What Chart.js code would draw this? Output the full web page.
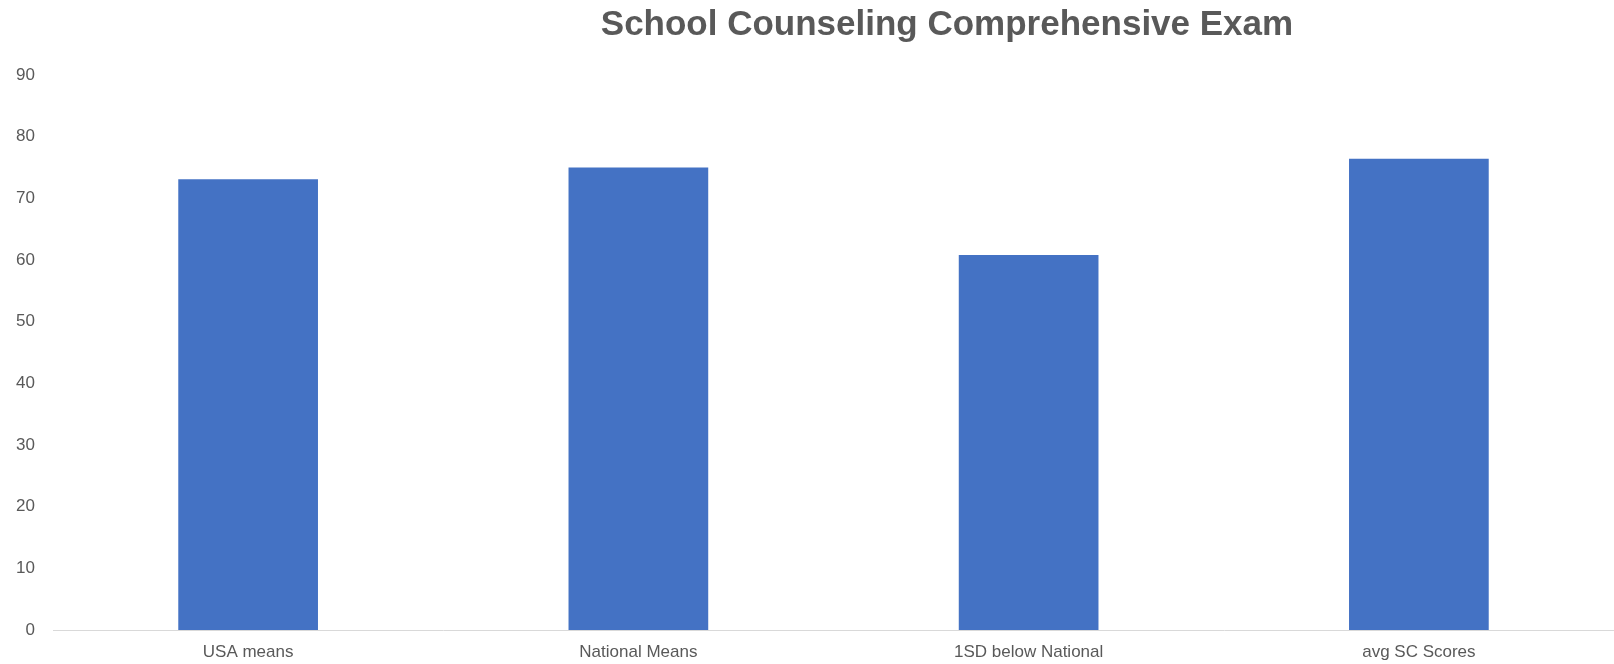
<!DOCTYPE html>
<html lang="en">

<head>
    <meta charset="UTF-8">
    <title>School Counseling Comprehensive Exam</title>
    <style>
        html, body {
            margin: 0;
            padding: 0;
            background: #ffffff;
        }

        .wrap {
            position: relative;
            width: 1614px;
            height: 664px;
        }

        .chart-title {
            position: absolute;
            top: 3px;
            left: 280px;
            right: 0;
            text-align: center;
            font-family: "Liberation Sans", Arial, sans-serif;
            font-weight: bold;
            font-size: 35px;
            color: #595959;
        }
    </style>
    <script src="https://cdn.jsdelivr.net/npm/chart.js"></script>
</head>

<body>
    <div class="wrap">
        <div class="chart-title">School Counseling Comprehensive Exam</div>
        <canvas id="exam-chart" width="1614" height="664"></canvas>
    </div>

    <script>
        // exam score categories and their values
        const categories = ['USA means', 'National Means', '1SD below National', 'avg SC Scores'];
        const scores = [73.1, 75.0, 60.8, 76.4];
        const yTicks = [0, 10, 20, 30, 40, 50, 60, 70, 80, 90];

        const ctx = document.getElementById('exam-chart');

        new Chart(ctx, {
            type: 'bar',
            data: {
                labels: categories,
                datasets: [{
                    label: 'Score',
                    data: scores,
                    backgroundColor: '#4472C4',
                    borderWidth: 0,
                    barPercentage: 0.358,
                    categoryPercentage: 1
                }]
            },
            options: {
                responsive: false,
                animation: false,
                layout: {
                    padding: { top: 75, left: 0, right: 0, bottom: 0 }
                },
                scales: {
                    x: {
                        grid: { display: false, drawTicks: false },
                        border: { display: true, color: '#d9d9d9', width: 1 },
                        afterFit: (scale) => { scale.height = 34; },
                        ticks: {
                            color: '#595959',
                            font: { family: 'Liberation Sans', size: 17 },
                            padding: 12
                        }
                    },
                    y: {
                        min: yTicks[0],
                        max: yTicks[yTicks.length - 1],
                        grid: { display: false, drawTicks: false },
                        border: { display: false },
                        afterFit: (scale) => { scale.width = 53; },
                        afterBuildTicks: (scale) => {
                            scale.ticks = yTicks.map((v) => ({ value: v }));
                        },
                        ticks: {
                            color: '#595959',
                            font: { family: 'Liberation Sans', size: 17 },
                            padding: 18
                        }
                    }
                },
                plugins: {
                    legend: { display: false },
                    tooltip: { enabled: false }
                }
            }
        });
    </script>
</body>

</html>
